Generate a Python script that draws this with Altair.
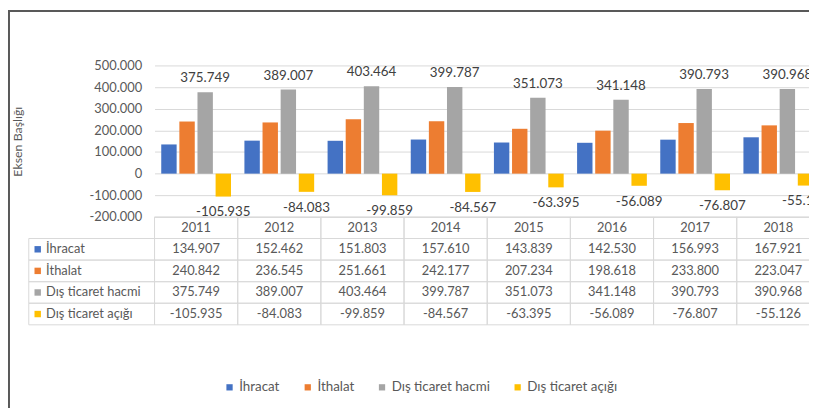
import altair as alt
import pandas as pd

years = ["2011", "2012", "2013", "2014", "2015", "2016", "2017", "2018"]
series = ["İhracat", "İthalat", "Dış ticaret hacmi", "Dış ticaret açığı"]
ihracat = [134907, 152462, 151803, 157610, 143839, 142530, 156993, 167921]
ithalat = [240842, 236545, 251661, 242177, 207234, 198618, 233800, 223047]
hacim = [375749, 389007, 403464, 399787, 351073, 341148, 390793, 390968]
acik = [-105935, -84083, -99859, -84567, -63395, -56089, -76807, -55126]
y_ticks = [-200000, -100000, 0, 100000, 200000, 300000, 400000, 500000]
colors = ["#4472C4", "#ED7D31", "#A5A5A5", "#FFC000"]
header = "Yıl"
axis_title = "Eksen Başlığı"

FONT = "Lato"
GRID = "#D9D9D9"
TXT = "#595959"

rows = []
for s, vals in zip(series, [ihracat, ithalat, hacim, acik]):
    for yv, v in zip(years, vals):
        rows.append({"year": yv, "series": s, "value": v})
df = pd.DataFrame(rows)
head_df = pd.DataFrame({"year": years, "series": [header] * len(years)})
cells_df = pd.concat([head_df, df[["year", "series"]]], ignore_index=True)
lab_df = pd.DataFrame({"series": series})
dummy = pd.DataFrame({"k": [0]})

x_enc = alt.X("year:O", scale=alt.Scale(domain=years, range=[0, 672], paddingInner=0, paddingOuter=0), axis=None)
xo_enc = alt.XOffset("series:N", scale=alt.Scale(domain=series, paddingInner=0.15, paddingOuter=0.37))
ybar_scale = alt.Scale(domain=[-200000, 500000], range=[153, 0], nice=False)
ytab_scale = alt.Scale(domain=[header] + series, range=[153, 262], paddingInner=0, paddingOuter=0)
color_enc = alt.Color(
    "series:N",
    scale=alt.Scale(domain=series, range=colors),
    legend=alt.Legend(
        title=None, orient="none", legendX=69, legendY=318, direction="horizontal",
        symbolType="square", symbolSize=40, symbolStrokeWidth=0,
        labelFont=FONT, labelFontSize=13.5, labelColor=TXT, columnPadding=21, labelOffset=3,
    ),
)

bars = alt.Chart(df).mark_bar().encode(
    x=x_enc,
    xOffset=xo_enc,
    y=alt.Y(
        "value:Q", scale=ybar_scale, stack=None,
        axis=alt.Axis(
            values=y_ticks, format=",.0f", title=axis_title,
            labelFont=FONT, labelFontSize=13, labelColor=TXT, labelPadding=13,
            ticks=False, domain=False, grid=True, gridColor=GRID,
            titleFont=FONT, titleFontSize=12.5, titleFontWeight="normal", titleColor=TXT,
            titleX=-138, titleY=76.5, titleAlign="center", titleBaseline="middle", titleAngle=270,
        ),
    ),
    color=color_enc,
)

lab_pos = alt.Chart(df).transform_filter(alt.datum.series == series[2]).mark_text(
    dy=-14, baseline="middle", font=FONT, fontSize=13.5, color="#404040"
).encode(
    x=x_enc, xOffset=xo_enc,
    y=alt.Y("value:Q", scale=ybar_scale, axis=None),
    text=alt.Text("value:Q", format=",.0f"),
)

lab_neg = alt.Chart(df).transform_filter(alt.datum.series == series[3]).mark_text(
    dy=16, baseline="middle", font=FONT, fontSize=13.5, color="#404040"
).encode(
    x=x_enc, xOffset=xo_enc,
    y=alt.Y("value:Q", scale=ybar_scale, axis=None),
    text=alt.Text("value:Q", format=",.0f"),
)

cells = alt.Chart(cells_df).mark_rect(fill="white", fillOpacity=0, stroke=GRID, strokeWidth=1).encode(
    x=x_enc,
    y=alt.Y(
        "series:N", scale=ytab_scale,
        axis=alt.Axis(
            orient="left", title=None, ticks=False, tickSize=0, domain=False, grid=False,
            labelAlign="left", labelPadding=110, labelFont=FONT, labelFontSize=13, labelColor=TXT,
            labelExpr=f"datum.value == '{header}' ? '' : datum.value",
        ),
    ),
)

tab_txt = alt.Chart(df).mark_text(font=FONT, fontSize=13, color=TXT, baseline="middle").encode(
    x=x_enc,
    y=alt.Y("series:N", scale=ytab_scale, axis=None),
    text=alt.Text("value:Q", format=",.0f"),
)

head_txt = alt.Chart(head_df).mark_text(font=FONT, fontSize=13, color=TXT, baseline="middle").encode(
    x=x_enc,
    y=alt.Y("series:N", scale=ytab_scale, axis=None),
    text=alt.Text("year:N"),
)

lab_cells = alt.Chart(lab_df).mark_rect(fill="white", fillOpacity=0, stroke=GRID, strokeWidth=1).encode(
    x=alt.value(-127), x2=alt.value(0),
    y=alt.Y("series:N", scale=ytab_scale, axis=None),
)

squares = alt.Chart(lab_df).mark_point(shape="square", filled=True, size=42, opacity=1).encode(
    x=alt.value(-118),
    y=alt.Y("series:N", scale=ytab_scale, axis=None),
    color=color_enc,
)

border_left = alt.Chart(dummy).mark_rule(color="#595959", strokeWidth=2).encode(
    x=alt.value(-147), y=alt.value(-56), y2=alt.value(346)
)
border_top = alt.Chart(dummy).mark_rule(color="#595959", strokeWidth=2).encode(
    x=alt.value(-148), x2=alt.value(661), y=alt.value(-55)
)

chart = alt.layer(
    bars, lab_pos, lab_neg, cells, tab_txt, head_txt, lab_cells, squares, border_left, border_top
).resolve_scale(y="independent").properties(
    width=661, height=346,
    autosize=alt.AutoSizeParams(type="none"),
    padding={"left": 148, "top": 56, "right": 0, "bottom": 0},
    background="white",
).configure(
    locale={"number": {"decimal": ",", "thousands": ".", "grouping": [3], "currency": ["", ""], "minus": "-"}}
).configure_view(strokeWidth=0)

chart.save("out.html", embed_options={"renderer": "svg", "actions": False})
